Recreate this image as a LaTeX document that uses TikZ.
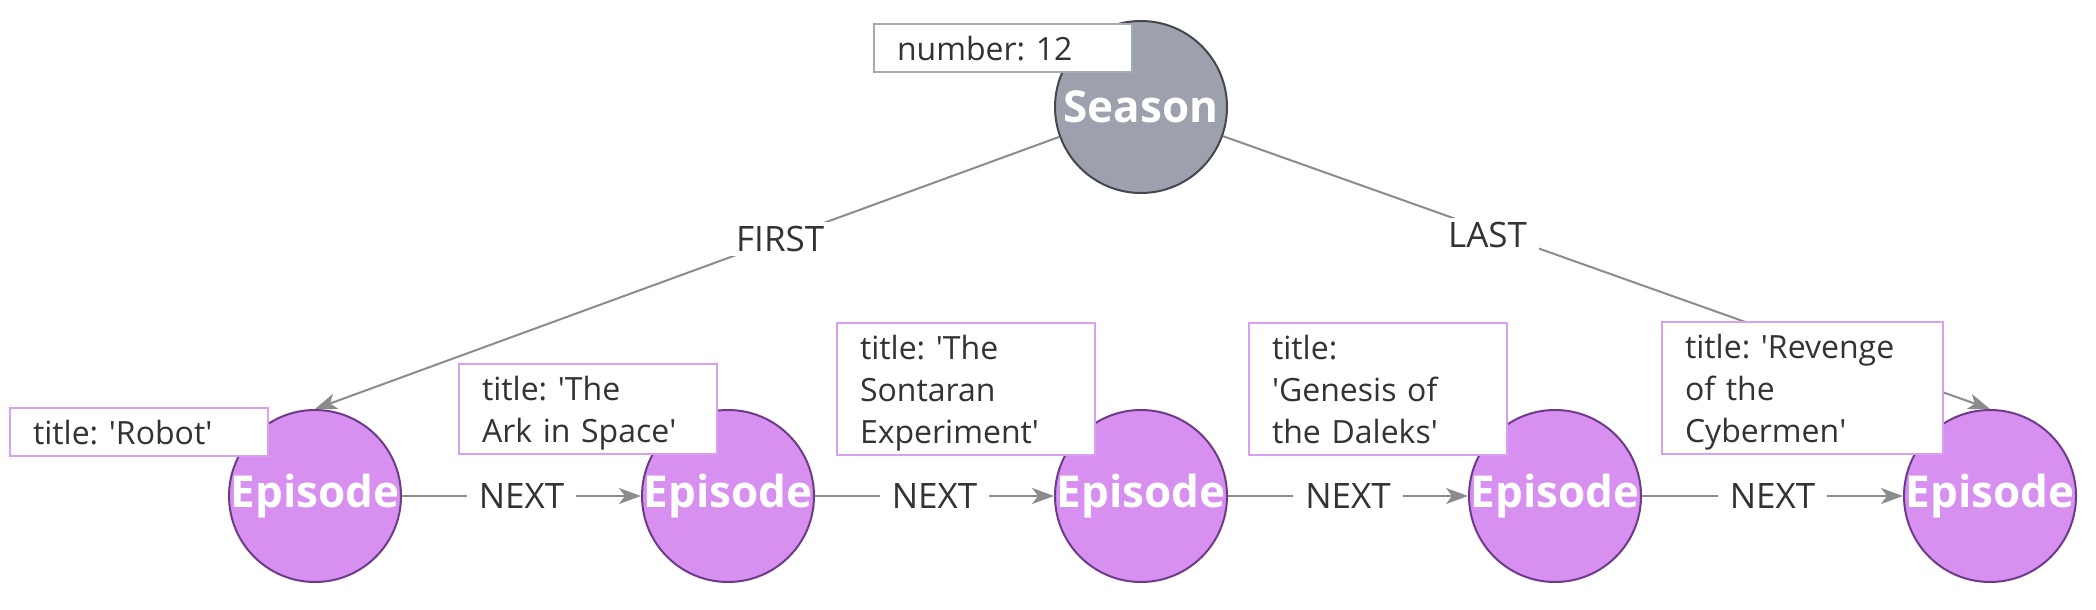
\documentclass[tikz,border=0pt]{standalone}
\usepackage{fontspec}
\setmainfont{Open Sans}
\usetikzlibrary{arrows.meta}
\definecolor{seasonfill}{HTML}{9CA1AD}
\definecolor{seasonline}{HTML}{45474F}
\definecolor{epfill}{HTML}{D890F0}
\definecolor{epline}{HTML}{6E3B8A}
\definecolor{propline}{HTML}{D9A0F2}
\definecolor{numline}{HTML}{A5ABB6}
\definecolor{txt}{HTML}{333333}
\definecolor{edgecol}{HTML}{8C8C8C}
\newcommand\lstrut{\rule[-9pt]{0pt}{42pt}}
\newcommand\qq{\textquotesingle}
\frenchspacing
\begin{document}
\begin{tikzpicture}[x=1pt,y=-1pt,
  nodecirc/.style={circle, minimum size=172pt, inner sep=0pt, line width=2pt},
  season/.style={nodecirc, fill=seasonfill, draw=seasonline},
  episode/.style={nodecirc, fill=epfill, draw=epline},
  caption/.style={font=\fontsize{44}{44}\selectfont\bfseries, text=white, inner sep=0pt},
  prop/.style={draw=propline, fill=white, line width=2pt, anchor=south west, align=left,
    text width=212pt, inner xsep=23pt, inner ysep=3pt, font=\fontsize{32}{42}\selectfont, text=txt},
  rel/.style={draw=edgecol, line width=2pt, -{Stealth[length=22pt,width=16pt,inset=6pt]}},
  rellbl/.style={fill=white, text=txt, font=\fontsize{35}{42}\selectfont, inner xsep=12pt, inner ysep=4pt},
]
\useasboundingbox[fill=white] (0,0) rectangle (2096,610);

% nodes
\node[season] (s) at (1141,107) {};
\node[caption] (sc) at (s) {Season};
\node[episode] (e1) at (315,496) {};
\node[episode] (e2) at (728,496) {};
\node[episode] (e3) at (1141,496) {};
\node[episode] (e4) at (1555,496) {};
\node[episode] (e5) at (1990,496) {};
\foreach \i in {1,...,5} {\node[caption] (c\i) at (e\i) {Episode};}

% relationships
\draw[rel] (s) -- node[rellbl, pos=0.375] (lf) {FIRST} (e1.north);
\draw[rel] (s) -- node[rellbl, pos=0.345, yshift=-5pt] (ll) {LAST} (e5.north);
\draw[rel] (e1) -- node[rellbl] (n1) {NEXT} (e2);
\draw[rel] (e2) -- node[rellbl] (n2) {NEXT} (e3);
\draw[rel] (e3) -- node[rellbl] (n3) {NEXT} (e4);
\draw[rel] (e4) -- node[rellbl] (n4) {NEXT} (e5);

% properties
\node[prop, draw=numline] (pn) at (873,73) {\lstrut number: 12};
\node[prop] (p1) at (9,457) {\lstrut title: \qq Robot\qq};
\node[prop] (p2) at (458,455) {\lstrut title: \qq The\\\lstrut Ark in Space\qq};
\node[prop] (p3) at (836,456) {\lstrut title: \qq The\\\lstrut Sontaran\\\lstrut Experiment\qq};
\node[prop] (p4) at (1248,456) {\lstrut title:\\\lstrut \qq Genesis of\\\lstrut the Daleks\qq};
\node[prop, text width=235pt] (p5) at (1661,455) {\lstrut title: \qq Revenge\\\lstrut of the\\\lstrut Cybermen\qq};
\end{tikzpicture}
\end{document}
